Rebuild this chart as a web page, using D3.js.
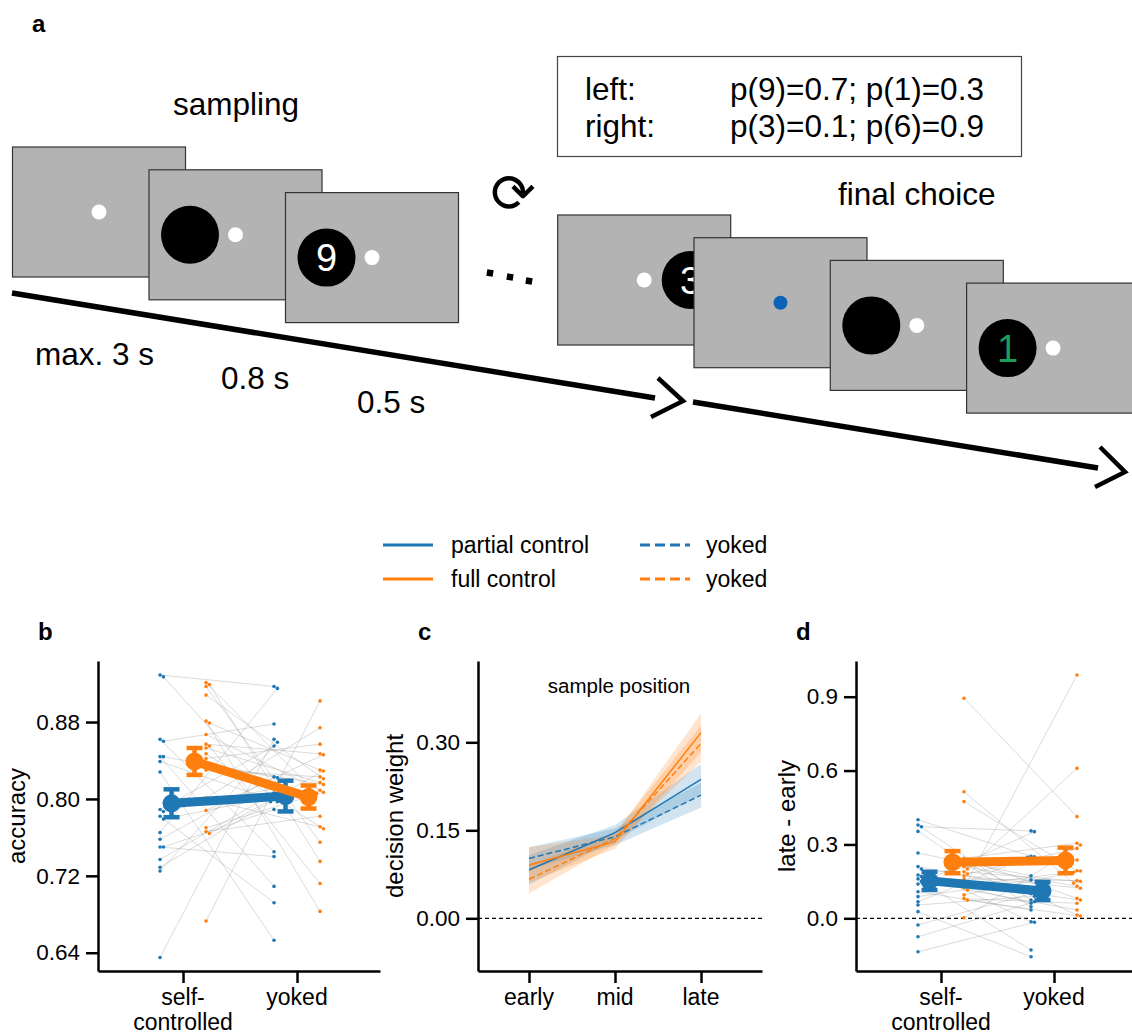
<!DOCTYPE html>
<html>
<head>
<meta charset="utf-8">
<script src="https://cdn.jsdelivr.net/npm/d3@7"></script>
<style>
  body { margin: 0; background: #fff; }
  text { font-family: "Liberation Sans", Arial, sans-serif; fill: #000; }
</style>
</head>
<body>
<svg id="fig" width="1132" height="1034"></svg>
<script>
// ---- data ----
var groups = ['self-|controlled', 'yoked'];
var positions = ['early', 'mid', 'late'];

// panel b: accuracy per subject (index i = same subject in both conditions)
var accPartialSelf  = [0.929, 0.927, 0.862, 0.860, 0.844, 0.844, 0.839, 0.828, 0.789, 0.787, 0.782, 0.779, 0.765, 0.758, 0.750, 0.750, 0.737, 0.729, 0.725, 0.635];
var accPartialYoked = [0.917, 0.800, 0.745, 0.878, 0.709, 0.822, 0.797, 0.653, 0.855, 0.811, 0.692, 0.803, 0.915, 0.823, 0.740, 0.789, 0.806, 0.797, 0.859, 0.862];
var accFullSelf     = [0.921, 0.919, 0.917, 0.908, 0.881, 0.879, 0.867, 0.857, 0.855, 0.853, 0.847, 0.842, 0.836, 0.801, 0.799, 0.788, 0.770, 0.766, 0.764, 0.673, 0.830];
var accFullYoked    = [0.806, 0.735, 0.755, 0.821, 0.683, 0.830, 0.809, 0.847, 0.712, 0.817, 0.769, 0.857, 0.815, 0.874, 0.771, 0.846, 0.807, 0.782, 0.829, 0.902, 0.823];
var accMeanPartial = [0.7955, 0.803];
var accErrPartial  = [0.0145, 0.016];
var accMeanFull    = [0.839, 0.802];
var accErrFull     = [0.014, 0.012];
var accTicks = [0.64, 0.72, 0.80, 0.88];

// panel c: decision weights by sample position
var wPartial      = [0.0824, 0.146, 0.237];
var wPartialCI    = [0.025, 0.013, 0.026];
var wPartialYoked = [0.102, 0.139, 0.210];
var wPartialYokedCI = [0.019, 0.014, 0.021];
var wFull         = [0.091, 0.1306, 0.3165];
var wFullCI       = [0.030, 0.012, 0.033];
var wFullYoked    = [0.0665, 0.136, 0.298];
var wFullYokedCI  = [0.024, 0.010, 0.031];
var wTicks = [0.00, 0.15, 0.30];

// panel d: late - early per subject
var dPartialSelf  = [0.400, 0.379, 0.372, 0.353, 0.265, 0.210, 0.200, 0.176, 0.170, 0.160, 0.149, 0.139, 0.108, 0.088, 0.067, 0.054, 0.027, -0.027, -0.075, -0.136];
var dPartialYoked = [0.252, 0.074, 0.355, 0.047, 0.173, 0.120, -0.014, 0.250, 0.061, -0.129, 0.110, 0.352, 0.034, 0.156, 0.248, 0.090, -0.156, 0.100, 0.067, -0.016];
var dFullSelf     = [0.894, 0.514, 0.474, 0.244, 0.237, 0.230, 0.223, 0.189, 0.180, 0.173, 0.142, 0.135, 0.124, 0.115, 0.095, 0.074, 0.002, 0.200, 0.210, 0.160, 0.080];
var dFullYoked    = [0.413, 0.143, 0.193, 0.305, 0.081, 0.237, 0.013, 0.150, 0.284, 0.122, 0.074, 0.192, 0.988, 0.034, 0.187, 0.009, 0.298, 0.609, 0.130, 0.153, 0.061];
var dMeanPartial = [0.152, 0.111];
var dErrPartial  = [0.037, 0.037];
var dMeanFull    = [0.228, 0.235];
var dErrFull     = [0.045, 0.052];
var dTicks = [0.0, 0.3, 0.6, 0.9];

var blue = '#1f77b4', orange = '#ff7f0e';

var svg = d3.select('#fig');

// ---- panel a: task schematic ----
var ga = svg.append('g');

function frame(x, y, f) {
    var g = ga.append('g').attr('transform', 'translate(' + x + ',' + y + ')');
    g.append('rect').attr('width', 173).attr('height', 130)
        .attr('fill', '#b3b3b3').attr('stroke', '#333').attr('stroke-width', 1.2);
    if (f.circle != null) {
        g.append('circle').attr('cx', f.circle).attr('cy', 65).attr('r', 29).attr('fill', '#000');
        if (f.digit) {
            g.append('text').attr('x', f.circle).attr('y', 65).attr('dy', '0.36em')
                .attr('text-anchor', 'middle').style('font-size', '38px')
                .style('fill', f.digitColor || '#fff').text(f.digit);
        }
    }
    g.append('circle').attr('cx', 86.5).attr('cy', 65).attr('r', f.fix ? 7 : 7.5)
        .attr('fill', f.fix ? '#0b62b8' : '#fff');
}

var sampleFrames = [{}, {circle: 41}, {circle: 41, digit: '9'}];
var choiceFrames = [{circle: 133, digit: '3'}, {fix: true}, {circle: 41}, {circle: 41, digit: '1', digitColor: '#1e9e5c'}];
sampleFrames.forEach(function(f, i) { frame(12.5 + i * 136.5, 147 + i * 22.8, f); });
choiceFrames.forEach(function(f, i) { frame(557.7 + i * 136.3, 215 + i * 22.7, f); });

// time arrows
var arrows = [
    {x1: 12, y1: 293, x2: 655, y2: 398, head: [[658, 378], [683, 401], [651, 417]]},
    {x1: 693, y1: 402, x2: 1098, y2: 468, head: [[1100, 447], [1125, 472], [1095, 487]]}
];
arrows.forEach(function(a) {
    ga.append('line').attr('x1', a.x1).attr('y1', a.y1).attr('x2', a.x2).attr('y2', a.y2)
        .attr('stroke', '#000').attr('stroke-width', 5.5);
    ga.append('path').attr('d', d3.line()(a.head)).attr('fill', 'none')
        .attr('stroke', '#000').attr('stroke-width', 4.5);
});

// ellipsis
[[490, 273], [510, 277], [529, 281]].forEach(function(p) {
    ga.append('rect').attr('x', -3.2).attr('y', -3.2).attr('width', 6.4).attr('height', 6.4)
        .attr('transform', 'translate(' + p[0] + ',' + p[1] + ') rotate(9)');
});

// repeat symbol
ga.append('text').attr('x', 513).attr('y', 193).attr('dy', '0.36em').attr('text-anchor', 'middle')
    .style('font-family', '"DejaVu Sans", sans-serif').style('font-size', '54px').text('\u27F3');

// texts
function txt(x, y, s, size) {
    return ga.append('text').attr('x', x).attr('y', y).style('font-size', size + 'px').text(s);
}
txt(173, 115, 'sampling', 31.5);
txt(838, 205, 'final choice', 31.5);
txt(35, 365, 'max. 3 s', 31.5);
txt(221, 389, '0.8 s', 31.5);
txt(357, 413, '0.5 s', 31.5);

ga.append('rect').attr('x', 557.5).attr('y', 56.5).attr('width', 464).attr('height', 100)
    .attr('fill', '#fff').attr('stroke', '#444').attr('stroke-width', 1.2);
txt(585, 100, 'left:', 31.5);
txt(585, 137, 'right:', 31.5);
txt(730, 100, 'p(9)=0.7; p(1)=0.3', 31.5);
txt(730, 137, 'p(3)=0.1; p(6)=0.9', 31.5);

// panel labels
[['a', 32, 32], ['b', 38, 640], ['c', 418, 640], ['d', 796, 640]].forEach(function(l) {
    svg.append('text').attr('x', l[1]).attr('y', l[2]).style('font-size', '24px')
        .style('font-weight', 'bold').text(l[0]);
});

// ---- legend ----
var legendItems = [
    {label: 'partial control', color: blue, dash: null, x: 383, y: 545},
    {label: 'full control', color: orange, dash: null, x: 383, y: 579},
    {label: 'yoked', color: blue, dash: '10,5', x: 640, y: 545},
    {label: 'yoked', color: orange, dash: '10,5', x: 640, y: 579}
];
var lg = svg.append('g');
legendItems.forEach(function(d) {
    lg.append('line').attr('x1', d.x).attr('x2', d.x + 50).attr('y1', d.y).attr('y2', d.y)
        .attr('stroke', d.color).attr('stroke-width', 3).attr('stroke-dasharray', d.dash);
    lg.append('text').attr('x', d.x + (d.dash ? 66 : 68)).attr('y', d.y).attr('dy', '0.35em')
        .style('font-size', '23px').text(d.label);
});

// ---- axes helpers ----
function styleAxis(g) {
    g.select('.domain').attr('stroke', '#000').attr('stroke-width', 2.5);
    g.selectAll('.tick line').attr('stroke', '#000').attr('stroke-width', 2.5);
    g.selectAll('.tick text').style('font-size', '22.5px').attr('fill', '#000');
}

function panel(xDom, xRange, yScale, yTicks, fmt, xLabels, yLabel, labelX) {
    var x = d3.scaleLinear().domain(xDom).range(xRange);
    var g = svg.append('g');
    var yAxis = g.append('g').attr('transform', 'translate(' + xRange[0] + ',0)')
        .call(d3.axisLeft(yScale).tickValues(yTicks).tickFormat(d3.format(fmt))
            .tickSize(12).tickSizeOuter(0).tickPadding(6));
    styleAxis(yAxis);
    var xAxis = g.append('g').attr('transform', 'translate(0,' + yScale.range()[0] + ')')
        .call(d3.axisBottom(x).tickValues(d3.range(xLabels.length)).tickFormat('')
            .tickSize(12).tickSizeOuter(0));
    styleAxis(xAxis);
    xLabels.forEach(function(l, i) {
        var t = g.append('text').attr('x', x(i)).attr('y', 1005).attr('text-anchor', 'middle')
            .style('font-size', '23px');
        l.split('|').forEach(function(part, k) {
            t.append('tspan').attr('x', x(i)).attr('dy', k ? 25 : 0).text(part);
        });
    });
    g.append('text').attr('transform', 'translate(' + labelX + ',816) rotate(-90)')
        .attr('text-anchor', 'middle').attr('dy', '0.35em').style('font-size', '24px').text(yLabel);
    return {g: g, x: x};
}

// beeswarm-ish placement so equal values don't overlap
function swarm(vals, cx, y) {
    var placed = [];
    var order = vals.map(function(v, i) { return i; }).sort(function(a, b) { return vals[b] - vals[a]; });
    var out = new Array(vals.length);
    order.forEach(function(i) {
        var py = y(vals[i]);
        var offs = [0, 3.4, -3.4, 6.8, -6.8];
        for (var k = 0; k < offs.length; k++) {
            var px = cx + offs[k];
            var hit = placed.some(function(p) { return Math.hypot(p[0] - px, p[1] - py) < 3.2; });
            if (!hit) break;
        }
        placed.push([px, py]);
        out[i] = [px, py];
    });
    return out;
}

function subjects(p, y, selfVals, yokedVals, dodge) {
    var a = swarm(selfVals, p.x(0) + dodge, y);
    var b = swarm(yokedVals, p.x(1) + dodge, y);
    p.g.append('g').selectAll('line').data(a).enter().append('line')
        .attr('x1', function(d) { return d[0]; }).attr('y1', function(d) { return d[1]; })
        .attr('x2', function(d, i) { return b[i][0]; }).attr('y2', function(d, i) { return b[i][1]; })
        .attr('stroke', '#999').attr('stroke-opacity', 0.4).attr('stroke-width', 0.9);
    return a.concat(b);
}

function dots(p, pts, color) {
    p.g.append('g').selectAll('circle').data(pts).enter().append('circle')
        .attr('cx', function(d) { return d[0]; }).attr('cy', function(d) { return d[1]; })
        .attr('r', 1.8).attr('fill', color);
}

function means(p, y, m, e, color, dodge) {
    var g = p.g.append('g');
    var pts = m.map(function(v, i) { return [p.x(i) + dodge, y(v)]; });
    g.append('path').attr('d', d3.line()(pts)).attr('stroke', color).attr('stroke-width', 9).attr('fill', 'none');
    m.forEach(function(v, i) {
        var cx = p.x(i) + dodge;
        g.append('line').attr('x1', cx).attr('x2', cx).attr('y1', y(v - e[i])).attr('y2', y(v + e[i]))
            .attr('stroke', color).attr('stroke-width', 4.5);
        [v - e[i], v + e[i]].forEach(function(c) {
            g.append('line').attr('x1', cx - 8).attr('x2', cx + 8).attr('y1', y(c)).attr('y2', y(c))
                .attr('stroke', color).attr('stroke-width', 4.5);
        });
        g.append('circle').attr('cx', cx).attr('cy', y(v)).attr('r', 9).attr('fill', color);
    });
}

// ---- panel b ----
var yB = d3.scaleLinear().domain([0.621, 0.9435]).range([971, 661]);
var pb = panel([-0.746, 1.728], [98, 380], yB, accTicks, '.2f', groups, 'accuracy', 17);
var ptsBP = subjects(pb, yB, accPartialSelf, accPartialYoked, -23);
var ptsBF = subjects(pb, yB, accFullSelf, accFullYoked, 23);
dots(pb, ptsBP, blue);
dots(pb, ptsBF, orange);
means(pb, yB, accMeanPartial, accErrPartial, blue, -11.5);
means(pb, yB, accMeanFull, accErrFull, orange, 11.5);

// ---- panel c ----
var yC = d3.scaleLinear().domain([-0.0898, 0.4386]).range([971, 661]);
var pc = panel([-0.593, 2.709], [478, 762], yC, wTicks, '.2f', positions, 'decision weight', 395);
pc.g.append('line').attr('x1', 478).attr('x2', 762).attr('y1', yC(0)).attr('y2', yC(0))
    .attr('stroke', '#000').attr('stroke-width', 1.2).attr('stroke-dasharray', '4,3');
pc.g.append('text').attr('x', 619).attr('y', 693).attr('text-anchor', 'middle')
    .style('font-size', '20.5px').text('sample position');

var curves = [
    {v: wPartial, ci: wPartialCI, color: blue, dash: null},
    {v: wPartialYoked, ci: wPartialYokedCI, color: blue, dash: '6,3'},
    {v: wFull, ci: wFullCI, color: orange, dash: null},
    {v: wFullYoked, ci: wFullYokedCI, color: orange, dash: '6,3'}
];
var band = d3.area().x(function(d, i) { return pc.x(i); })
    .y0(function(d) { return yC(d[0] - d[1]); }).y1(function(d) { return yC(d[0] + d[1]); });
var wline = d3.line().x(function(d, i) { return pc.x(i); }).y(function(d) { return yC(d); });
curves.forEach(function(c) {
    pc.g.append('path').attr('d', band(c.v.map(function(v, i) { return [v, c.ci[i]]; })))
        .attr('fill', c.color).attr('fill-opacity', 0.2);
});
curves.forEach(function(c) {
    pc.g.append('path').attr('d', wline(c.v)).attr('fill', 'none').attr('stroke', c.color)
        .attr('stroke-width', 1.5).attr('stroke-dasharray', c.dash);
});

// ---- panel d ----
var yD = d3.scaleLinear().domain([-0.214, 1.045]).range([971, 661]);
var pd = panel([-0.752, 1.690], [856, 1132], yD, dTicks, '.1f', groups, 'late - early', 787);
pd.g.append('line').attr('x1', 856).attr('x2', 1132).attr('y1', yD(0)).attr('y2', yD(0))
    .attr('stroke', '#000').attr('stroke-width', 1.2).attr('stroke-dasharray', '4,3');
var ptsDP = subjects(pd, yD, dPartialSelf, dPartialYoked, -23);
var ptsDF = subjects(pd, yD, dFullSelf, dFullYoked, 23);
dots(pd, ptsDP, blue);
dots(pd, ptsDF, orange);
means(pd, yD, dMeanPartial, dErrPartial, blue, -11.5);
means(pd, yD, dMeanFull, dErrFull, orange, 11.5);
</script>
</body>
</html>
